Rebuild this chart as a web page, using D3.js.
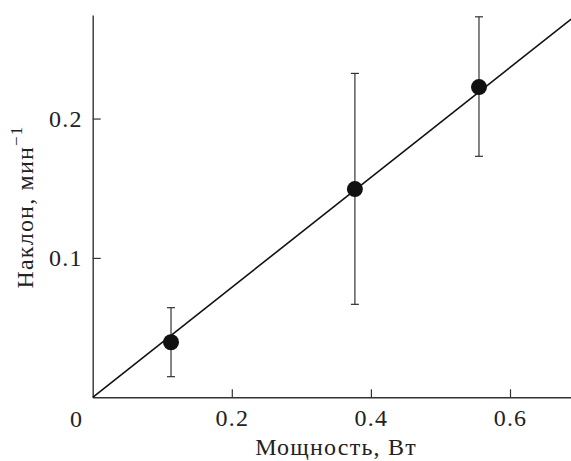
<!DOCTYPE html>
<html>
<head>
<meta charset="utf-8">
<script src="https://cdn.jsdelivr.net/npm/d3@7"></script>
<style>
  body { margin: 0; background: #fff; }
  svg text { font-family: "Liberation Serif", "Times New Roman", Times, "DejaVu Serif", serif; fill: #222; letter-spacing: 1.2px; }
</style>
</head>
<body>
<div id="chart"></div>
<script>
// measured points (power, W -> slope, 1/min)
let power = [0.1126, 0.377, 0.5554];
let slope = [0.0395, 0.1494, 0.2226];
let errLow = [0.0148, 0.0667, 0.1729];
let errHigh = [0.0643, 0.2324, 0.273];

// linear fit through origin
let fitX = [0, 0.688];
let fitY = [0, 0.2714];

let xTicks = [0.2, 0.4, 0.6];
let yTicks = [0.1, 0.2];

let svgWidth = 571;
let svgHeight = 461;

let svg = d3.select("#chart")
  .append("svg")
  .attr("width", svgWidth)
  .attr("height", svgHeight);

let xScale = d3.scaleLinear()
  .domain([0, 0.6877])
  .range([92.7, 571]);

let yScale = d3.scaleLinear()
  .domain([0, 0.2743])
  .range([397.3, 15]);

// axes, ticks point inward
let bottomAxis = d3.axisBottom(xScale)
  .tickValues(xTicks)
  .tickSizeInner(-8)
  .tickSizeOuter(0)
  .tickPadding(12)
  .tickFormat(d3.format(".1f"));

let leftAxis = d3.axisLeft(yScale)
  .tickValues(yTicks)
  .tickSizeInner(-8)
  .tickSizeOuter(0)
  .tickPadding(10)
  .tickFormat(d3.format(".1f"));

let xAxis = svg.append("g")
  .attr("transform", `translate(0, ${yScale(0)})`)
  .call(bottomAxis);

let yAxis = svg.append("g")
  .attr("transform", `translate(${xScale(0)}, 0)`)
  .call(leftAxis);

[xAxis, yAxis].forEach(function(ax) {
  ax.attr("font-family", null);
  ax.select(".domain").attr("stroke", "#333").attr("stroke-width", 1.4);
  ax.selectAll(".tick line").attr("stroke", "#333").attr("stroke-width", 1.2);
  ax.selectAll(".tick text")
    .attr("font-size", 24)
    .attr("fill", "#222");
});

// origin label
svg.append("text")
  .attr("x", xScale(0) - 16)
  .attr("y", 427)
  .attr("text-anchor", "middle")
  .attr("font-size", 24)
  .text("0");

// fit line
let line = d3.line()
  .x(d => xScale(d[0]))
  .y(d => yScale(d[1]));

svg.append("path")
  .datum(d3.zip(fitX, fitY))
  .attr("d", line)
  .attr("fill", "none")
  .attr("stroke", "#111")
  .attr("stroke-width", 1.6);

// error bars
let pts = power.map((p, i) => ({x: p, y: slope[i], lo: errLow[i], hi: errHigh[i]}));

let bars = svg.append("g").selectAll("g")
  .data(pts)
  .enter()
  .append("g")
  .attr("stroke", "#333")
  .attr("stroke-width", 1.2);

bars.append("line")
  .attr("x1", d => xScale(d.x))
  .attr("x2", d => xScale(d.x))
  .attr("y1", d => yScale(d.lo))
  .attr("y2", d => yScale(d.hi));

bars.append("line")
  .attr("x1", d => xScale(d.x) - 4)
  .attr("x2", d => xScale(d.x) + 4)
  .attr("y1", d => yScale(d.lo))
  .attr("y2", d => yScale(d.lo));

bars.append("line")
  .attr("x1", d => xScale(d.x) - 4)
  .attr("x2", d => xScale(d.x) + 4)
  .attr("y1", d => yScale(d.hi))
  .attr("y2", d => yScale(d.hi));

// points
svg.append("g").selectAll("circle")
  .data(pts)
  .enter()
  .append("circle")
  .attr("cx", d => xScale(d.x))
  .attr("cy", d => yScale(d.y))
  .attr("r", 8)
  .attr("fill", "#111");

// axis titles
svg.append("text")
  .attr("x", 336)
  .attr("y", 455)
  .attr("text-anchor", "middle")
  .attr("font-size", 24)
  .text("Мощность, Вт");

let yLabel = svg.append("text")
  .attr("transform", "translate(33, 207) rotate(-90)")
  .attr("text-anchor", "middle")
  .attr("font-size", 24);

yLabel.append("tspan").text("Наклон, мин");
yLabel.append("tspan")
  .attr("dy", -11)
  .attr("font-size", 17)
  .text("−1");
</script>
</body>
</html>
